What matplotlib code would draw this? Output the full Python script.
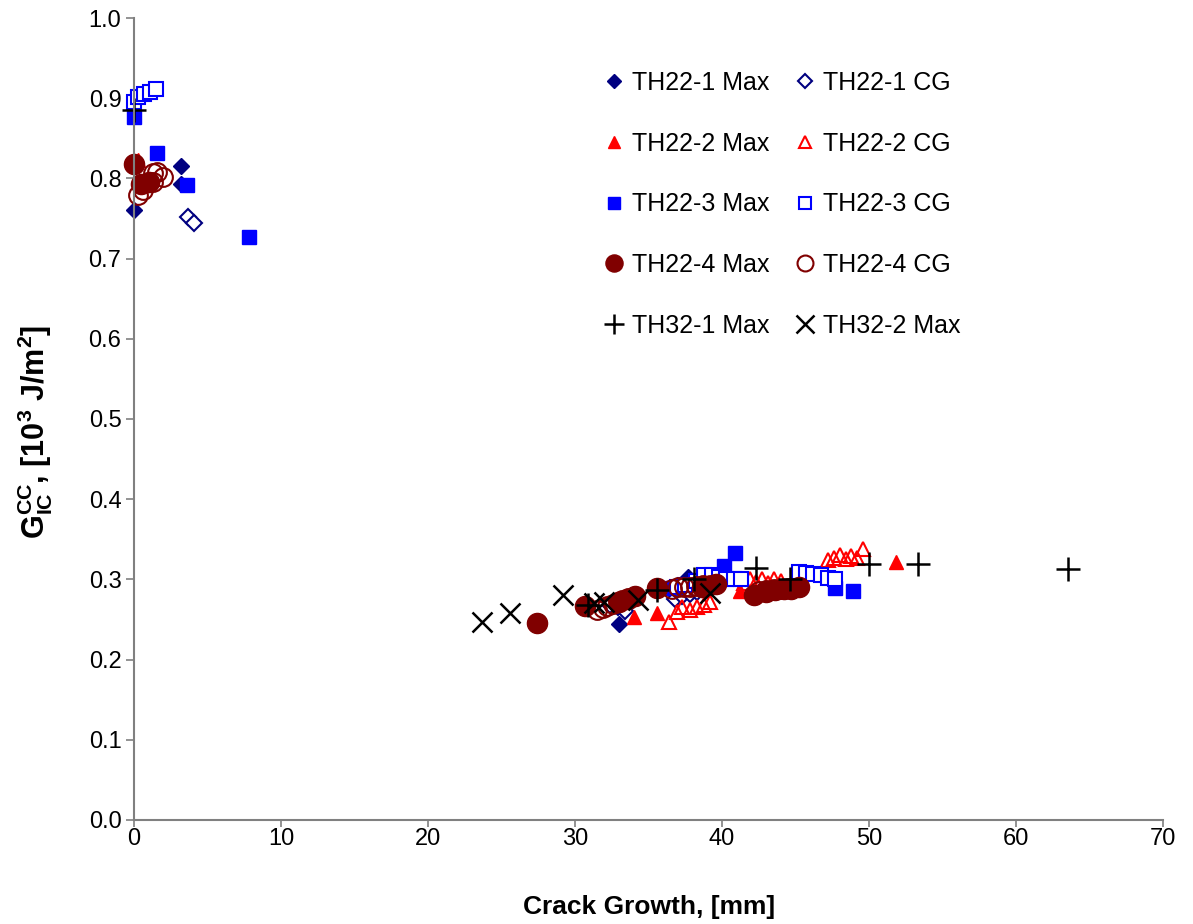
import matplotlib.pyplot as plt

plt.rcParams['font.family'] = ['Liberation Sans', 'DejaVu Sans']
plt.rcParams['mathtext.fontset'] = 'custom'
plt.rcParams['mathtext.rm'] = 'Liberation Sans'
plt.rcParams['mathtext.bf'] = 'Liberation Sans:bold'
plt.rcParams['mathtext.it'] = 'Liberation Sans:italic'

# crack growth [mm] and G_IC^CC [10^3 J/m^2] per specimen
th22_1_max_x = [0.0, 3.2, 3.2, 33.0, 37.7, 38.2, 42.6, 44.0]
th22_1_max_y = [0.760, 0.815, 0.793, 0.244, 0.303, 0.290, 0.282, 0.286]
th22_1_cg_x = [3.7, 4.1, 32.4, 32.9, 33.4, 36.8, 37.3, 37.8, 38.3, 42.5, 43.0, 43.5, 44.0, 44.5, 45.0]
th22_1_cg_y = [0.752, 0.744, 0.268, 0.265, 0.261, 0.276, 0.279, 0.282, 0.284, 0.283, 0.285, 0.286, 0.287, 0.287, 0.288]

th22_2_max_x = [0.3, 34.0, 35.6, 41.2, 43.3, 51.8]
th22_2_max_y = [0.823, 0.253, 0.258, 0.285, 0.292, 0.322]
th22_2_cg_x = [36.4, 36.9, 37.3, 37.8, 38.3, 38.8, 39.2, 41.5, 41.9, 42.3, 42.7, 43.1, 43.5, 44.0,
               47.2, 47.6, 48.0, 48.4, 48.8, 49.2, 49.6]
th22_2_cg_y = [0.247, 0.259, 0.265, 0.262, 0.266, 0.268, 0.272, 0.296, 0.300, 0.297, 0.301, 0.296, 0.300, 0.298,
               0.324, 0.327, 0.331, 0.325, 0.329, 0.327, 0.338]

th22_3_max_x = [0.0, 1.6, 3.6, 7.8, 36.6, 39.5, 40.1, 40.9, 47.7, 48.9]
th22_3_max_y = [0.877, 0.832, 0.792, 0.727, 0.289, 0.303, 0.317, 0.333, 0.289, 0.286]
th22_3_cg_x = [0.0, 0.3, 0.7, 1.1, 1.5, 36.9, 37.5, 38.2, 38.8, 39.3, 39.8, 40.3, 40.8, 41.3,
               45.2, 45.7, 46.2, 46.7, 47.2, 47.7]
th22_3_cg_y = [0.895, 0.901, 0.905, 0.908, 0.912, 0.291, 0.293, 0.298, 0.305, 0.305, 0.303, 0.301, 0.300, 0.300,
               0.309, 0.308, 0.307, 0.305, 0.302, 0.300]

th22_4_max_x = [0.0, 0.5, 1.0, 27.4, 30.7, 33.0, 33.6, 34.1, 35.6, 38.6, 39.6, 42.2, 43.0, 43.6, 44.2, 44.7, 45.2]
th22_4_max_y = [0.818, 0.793, 0.795, 0.246, 0.267, 0.272, 0.276, 0.279, 0.289, 0.290, 0.294, 0.281, 0.284, 0.287, 0.288, 0.288, 0.290]
th22_4_cg_x = [0.3, 0.6, 1.3, 1.6, 2.0, 1.3, 31.5, 31.9, 32.2, 32.6, 32.9, 33.2, 33.6,
               36.6, 37.0, 37.4, 37.8, 38.2, 38.7, 39.2, 42.5, 43.0, 43.5, 44.0, 44.5]
th22_4_cg_y = [0.779, 0.786, 0.807, 0.808, 0.802, 0.796, 0.262, 0.264, 0.267, 0.269, 0.272, 0.274, 0.277,
               0.288, 0.290, 0.291, 0.291, 0.292, 0.293, 0.293, 0.286, 0.287, 0.288, 0.288, 0.289]

th32_1_max_x = [0.0, 30.9, 35.6, 38.1, 42.3, 44.6, 50.0, 53.3, 63.5]
th32_1_max_y = [0.885, 0.268, 0.287, 0.301, 0.314, 0.300, 0.319, 0.319, 0.313]
th32_2_max_x = [23.7, 25.6, 29.2, 31.3, 32.0, 34.3, 39.2]
th32_2_max_y = [0.247, 0.258, 0.281, 0.270, 0.272, 0.274, 0.283]

navy = '#000080'
red = '#FF0000'
blue = '#0000FF'
maroon = '#800000'

fig = plt.figure(figsize=(11.93, 9.24), dpi=100)
ax = fig.add_axes([0.1123, 0.1126, 0.8627, 0.8679])

kw = dict(ls='none', clip_on=False)
h1, = ax.plot(th22_1_max_x, th22_1_max_y, 'D', ms=8.5, color=navy, mec=navy, label='TH22-1 Max', **kw)
h2, = ax.plot(th22_1_cg_x, th22_1_cg_y, 'D', ms=8, mfc='white', mec=navy, mew=1.5, label='TH22-1 CG', **kw)
h3, = ax.plot(th22_2_max_x, th22_2_max_y, '^', ms=10.5, color=red, mec=red, label='TH22-2 Max', **kw)
h4, = ax.plot(th22_2_cg_x, th22_2_cg_y, '^', ms=10.5, mfc='none', mec=red, mew=1.5, label='TH22-2 CG', **kw)
h5, = ax.plot(th22_3_max_x, th22_3_max_y, 's', ms=10.5, color=blue, mec=blue, label='TH22-3 Max', **kw)
h6, = ax.plot(th22_3_cg_x, th22_3_cg_y, 's', ms=9.5, mfc='white', mec=blue, mew=1.5, label='TH22-3 CG', **kw)
h7, = ax.plot(th22_4_max_x, th22_4_max_y, 'o', ms=14.5, color=maroon, mec=maroon, label='TH22-4 Max', **kw)
h8, = ax.plot(th22_4_cg_x, th22_4_cg_y, 'o', ms=13.5, mfc='none', mec=maroon, mew=1.5, label='TH22-4 CG', **kw)
h9, = ax.plot(th32_1_max_x, th32_1_max_y, '+', ms=17, color='black', mew=1.8, label='TH32-1 Max', **kw)
h10, = ax.plot(th32_2_max_x, th32_2_max_y, 'x', ms=15, color='black', mew=1.8, label='TH32-2 Max', **kw)

ax.set_xlim(0, 70)
ax.set_ylim(0, 1.0)
ax.set_xticks(range(0, 71, 10))
ax.set_yticks([i / 10 for i in range(11)])
ax.set_yticklabels(['%.1f' % (i / 10) for i in range(11)])
ax.tick_params(labelsize=17, color='#808080', length=6, width=1.2, pad=3)
ax.tick_params(axis='x', length=5, pad=1)
for s in ['top', 'right']:
    ax.spines[s].set_visible(False)
for s in ['left', 'bottom']:
    ax.spines[s].set_color('#808080')
    ax.spines[s].set_linewidth(1.5)

ax.set_xlabel('Crack Growth, [mm]', fontsize=19, fontweight='bold')
ax.xaxis.set_label_coords(0.5, -0.093)
ax.set_ylabel(r'$\mathbf{G_{IC}^{CC}}$, [10$^\mathbf{3}$ J/m$^\mathbf{2}$]', fontsize=22,
              fontweight='bold')
ax.yaxis.set_label_coords(-0.077, 0.484)

ax.legend(handles=[h1, h3, h5, h7, h9, h2, h4, h6, h8, h10], ncol=2, frameon=False,
          fontsize=18, loc='upper left', bbox_to_anchor=(0.435, 0.962), labelspacing=1.47,
          handlelength=0.8, handletextpad=0.3, columnspacing=1.05, markerscale=0.85)

plt.savefig('out.png', dpi=100)
